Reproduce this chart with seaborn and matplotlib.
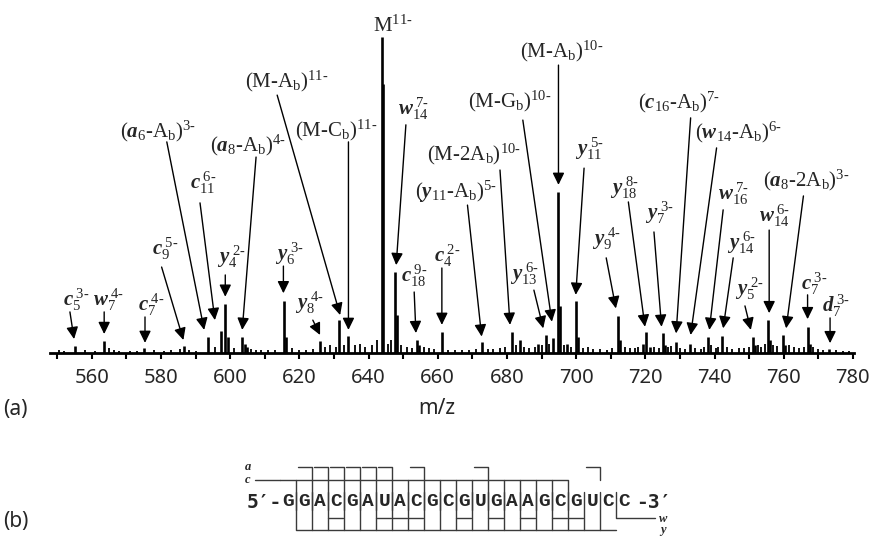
import matplotlib
matplotlib.use("Agg")
import matplotlib.pyplot as plt
import seaborn as sns

# ---------------- data: annotated / main peaks (m/z, relative intensity %) -------------
peak_mz = [555.2, 563.6, 575.1, 586.7, 593.5, 597.3, 598.5, 599.3, 603.5, 604.2, 605.0,
           615.6, 616.2, 626.0, 631.6, 634.0, 643.8, 644.1, 647.7, 648.3, 654.1, 654.6,
           661.2, 672.9, 681.4, 683.8, 689.1, 691.3, 693.2, 694.9, 695.3, 697.3, 700.0,
           700.6, 712.2, 712.8, 719.2, 720.2, 721.4, 725.0, 725.6, 728.9, 732.9, 738.2,
           742.3, 751.0, 751.6, 755.5, 756.1, 759.9, 760.5, 767.1, 767.7, 773.2]
peak_int = [2.3, 3.8, 1.6, 2.2, 5.2, 7.0, 15.5, 5.0, 5.2, 3.0, 2.0,
            16.5, 5.0, 3.9, 10.4, 5.4, 100.0, 85.0, 25.5, 12.0, 4.1, 2.5,
            6.7, 3.6, 6.7, 4.0, 3.0, 5.7, 4.7, 51.0, 15.0, 3.0, 16.3,
            5.0, 11.7, 4.0, 3.0, 6.7, 2.0, 6.2, 2.5, 3.6, 2.8, 5.2,
            5.5, 5.2, 2.5, 10.4, 4.0, 5.7, 2.5, 8.1, 3.0, 1.4]

# small background peaks
noise_mz = [550.5, 552.0, 558.0, 561.0, 565.0, 566.5, 568.0, 571.0, 573.0, 578.0, 581.0,
            583.0, 585.5, 588.0, 590.0, 595.5, 601.0, 606.0, 607.5, 609.0, 611.0, 613.0,
            618.0, 620.0, 622.0, 624.0, 627.5, 629.0, 630.5, 633.0, 636.0, 637.5, 639.0,
            641.0, 642.5, 645.5, 646.5, 649.5, 651.0, 652.5, 656.0, 657.5, 659.0, 663.0,
            665.0, 667.0, 669.0, 671.0, 674.5, 676.0, 678.0, 679.5, 682.5, 685.0, 686.5,
            688.0, 690.0, 692.2, 696.5, 698.5, 702.0, 703.4, 705.0, 707.0, 709.0, 710.5,
            714.0, 715.5, 717.0, 718.0, 722.5, 724.0, 726.5, 727.5, 730.0, 731.5, 734.5,
            736.0, 737.0, 739.0, 740.5, 741.0, 743.5, 745.0, 747.0, 748.5, 750.0, 752.5,
            753.5, 754.5, 757.0, 758.0, 761.5, 763.0, 764.5, 766.0, 768.5, 770.0, 771.5,
            775.0, 777.0, 779.0]
noise_int = [0.8, 0.6, 0.8, 0.7, 1.5, 0.9, 0.6, 0.7, 0.5, 1.0, 0.6,
             0.8, 1.4, 0.9, 0.7, 2.0, 1.5, 1.2, 1.0, 0.8, 0.9, 1.0,
             1.5, 1.0, 0.9, 1.2, 1.8, 2.5, 2.0, 2.5, 2.5, 3.0, 2.0,
             2.5, 4.0, 3.0, 4.0, 2.5, 2.0, 1.6, 2.0, 1.5, 1.2, 1.0,
             0.8, 0.9, 1.0, 1.3, 1.2, 1.3, 1.6, 2.0, 2.5, 2.0, 1.5,
             2.0, 2.5, 3.0, 2.5, 2.0, 1.5, 2.0, 1.2, 1.3, 1.1, 1.6,
             2.0, 1.5, 1.6, 2.0, 1.8, 1.5, 2.0, 2.2, 1.6, 1.2, 1.5,
             1.3, 2.0, 2.5, 1.5, 2.0, 1.8, 1.3, 1.5, 1.5, 2.0, 2.5,
             2.0, 3.0, 2.5, 2.2, 2.5, 1.8, 1.5, 2.0, 2.0, 1.3, 1.0,
             0.8, 0.6, 0.5]

# ion assignments (label text)
ion_labels = [
    r"$\mathbfit{c}_{5}^{\ 3\text{-}}$",
    r"$\mathbfit{w}_{7}^{\ 4\text{-}}$",
    r"$\mathbfit{c}_{7}^{\ 4\text{-}}$",
    r"$\mathbfit{c}_{9}^{\ 5\text{-}}$",
    r"$(\mathbfit{a}_{6}\text{-}\mathrm{A}_{\mathrm{b}})^{3\text{-}}$",
    r"$\mathbfit{c}_{11}^{\ 6\text{-}}$",
    r"$\mathbfit{y}_{4}^{\ 2\text{-}}$",
    r"$(\mathbfit{a}_{8}\text{-}\mathrm{A}_{\mathrm{b}})^{4\text{-}}$",
    r"$\mathbfit{y}_{6}^{\ 3\text{-}}$",
    r"$\mathbfit{y}_{8}^{\ 4\text{-}}$",
    r"$(\mathrm{M}\text{-}\mathrm{A}_{\mathrm{b}})^{11\text{-}}$",
    r"$(\mathrm{M}\text{-}\mathrm{C}_{\mathrm{b}})^{11\text{-}}$",
    r"$\mathrm{M}^{11\text{-}}$",
    r"$\mathbfit{w}_{14}^{\ 7\text{-}}$",
    r"$\mathbfit{c}_{18}^{\ 9\text{-}}$",
    r"$\mathbfit{c}_{4}^{\ 2\text{-}}$",
    r"$(\mathbfit{y}_{11}\text{-}\mathrm{A}_{\mathrm{b}})^{5\text{-}}$",
    r"$(\mathrm{M}\text{-}2\mathrm{A}_{\mathrm{b}})^{10\text{-}}$",
    r"$\mathbfit{y}_{13}^{\ 6\text{-}}$",
    r"$(\mathrm{M}\text{-}\mathrm{G}_{\mathrm{b}})^{10\text{-}}$",
    r"$(\mathrm{M}\text{-}\mathrm{A}_{\mathrm{b}})^{10\text{-}}$",
    r"$\mathbfit{y}_{11}^{\ 5\text{-}}$",
    r"$\mathbfit{y}_{9}^{\ 4\text{-}}$",
    r"$\mathbfit{y}_{18}^{\ 8\text{-}}$",
    r"$\mathbfit{y}_{7}^{\ 3\text{-}}$",
    r"$(\mathbfit{c}_{16}\text{-}\mathrm{A}_{\mathrm{b}})^{7\text{-}}$",
    r"$(\mathbfit{w}_{14}\text{-}\mathrm{A}_{\mathrm{b}})^{6\text{-}}$",
    r"$\mathbfit{w}_{16}^{\ 7\text{-}}$",
    r"$\mathbfit{y}_{14}^{\ 6\text{-}}$",
    r"$(\mathbfit{a}_{8}\text{-}2\mathrm{A}_{\mathrm{b}})^{3\text{-}}$",
    r"$\mathbfit{w}_{14}^{\ 6\text{-}}$",
    r"$\mathbfit{y}_{5}^{\ 2\text{-}}$",
    r"$\mathbfit{c}_{7}^{\ 3\text{-}}$",
    r"$\mathbfit{d}_{7}^{\ 3\text{-}}$",
]

# ---------------- layout (positions in data units: m/z, % intensity) ----------------
label_pos = [(551.8, 14.9), (560.4, 14.9), (573.5, 13.4), (577.3, 31.0), (568.2, 68.2),
             (588.4, 51.8), (596.1, 28.7), (594.2, 63.7), (613.0, 29.4), (618.8, 14.1),
             (604.3, 84.2), (618.8, 68.5), (641.2, 101.7), (648.6, 75.3), (649.3, 22.6),
             (659.0, 28.9), (653.4, 49.0), (656.8, 61.1), (680.9, 23.1), (668.8, 77.9),
             (683.8, 93.6), (699.7, 62.7), (704.5, 34.2), (709.8, 50.5), (719.9, 42.6),
             (718.0, 77.4), (734.4, 67.9), (741.1, 48.4), (743.5, 33.1), (754.1, 52.6),
             (752.9, 41.6), (745.9, 18.4), (764.9, 19.9), (771.0, 13.1)]
arrow_from = [(553.7, 13.0), (563.6, 13.0), (575.4, 11.4), (580.2, 27.2), (581.7, 66.8),
              (591.3, 47.5), (598.6, 24.7), (607.5, 62.0), (615.4, 27.5), (623.9, 10.4),
              (613.6, 81.6), (634.2, 66.8), None, (650.8, 72.2), (653.2, 19.3),
              (661.2, 26.9), (668.6, 46.8), (678.0, 57.9), (687.8, 19.9), (684.6, 73.7),
              (694.9, 91.1), (702.3, 58.5), (708.7, 30.1), (715.1, 47.8), (722.5, 38.3),
              (733.1, 74.4), (740.6, 64.9), (742.5, 45.3), (745.4, 30.1), (765.7, 49.7),
              (755.8, 38.9), (748.8, 14.9), (766.9, 18.4), (773.4, 11.1)]
arrow_to = [(554.9, 4.4), (563.6, 6.0), (575.4, 3.2), (586.5, 4.1), (592.5, 7.3),
            (595.6, 10.4), (598.6, 17.8), (603.5, 7.3), (615.4, 18.9), (626.0, 5.7),
            (631.8, 12.0), (634.2, 7.3), None, (648.0, 27.8), (653.7, 6.3),
            (661.2, 8.9), (672.7, 5.2), (680.9, 8.9), (690.5, 7.8), (693.0, 9.9),
            (694.9, 53.2), (699.9, 18.4), (711.5, 14.1), (719.9, 8.3), (724.7, 8.3),
            (728.9, 6.2), (733.1, 5.7), (738.5, 7.3), (742.5, 7.8), (760.7, 7.8),
            (755.8, 12.6), (750.5, 7.3), (766.9, 10.7), (773.4, 3.1)]

x_ticks = [560, 580, 600, 620, 640, 660, 680, 700, 720, 740, 760, 780]

# ---------------- part (b) data ----------------
sequence = list("GGACGAUACGCGUGAAGCGUCC")
a_cuts = [2, 3, 4, 5, 6, 7, 9, 13, 20]                 # a-ion length
c_cuts = list(range(1, 19))                             # c-ion length
w_cuts = [19, 16, 15, 14, 11, 9, 7, 5, 4]               # w-ion length
y_cuts = list(range(2, 22))                             # y-ion length

# ---------------- styling ----------------
sns.set_style("white")
plt.rcParams["font.family"] = ["Liberation Serif", "DejaVu Serif"]
plt.rcParams["mathtext.fontset"] = "custom"
plt.rcParams["mathtext.rm"] = "Liberation Serif"
plt.rcParams["mathtext.it"] = "Liberation Serif:italic"
plt.rcParams["mathtext.bf"] = "Liberation Serif:bold"
plt.rcParams["mathtext.bfit"] = "Liberation Serif:italic:bold"

W, H = 869, 539
fig = plt.figure(figsize=(W / 100, H / 100), dpi=100)

ax_l, ax_r, ax_b, ax_t = 50.2, 853.6, 353.0, 0.0
ax = fig.add_axes([ax_l / W, 1 - ax_b / H, (ax_r - ax_l) / W, (ax_b - ax_t) / H])
ax.set_xlim(548.0, 780.2)
ax.set_ylim(0, 111.7)

ax.vlines(noise_mz, 0, noise_int, color="black", lw=1.3)
ax.vlines(peak_mz, 0, peak_int, color="black", lw=1.9)

sns.despine(ax=ax, left=True, top=True, right=True)
ax.spines["bottom"].set_linewidth(2.0)
ax.spines["bottom"].set_color("black")
ax.set_yticks([])
ax.set_xticks(x_ticks)
ax.set_xticks(list(range(550, 781, 10)), minor=True)
ax.tick_params(axis="x", which="both", direction="out", length=4.5, width=1.5,
               color="black", bottom=True)
ax.tick_params(axis="x", which="major", pad=6, labelsize=14.5)
sans = ["Noto Sans", "DejaVu Sans"]
for lbl in ax.get_xticklabels():
    lbl.set_family(sans)
    lbl.set_stretch("condensed")

head = dict(arrowstyle="-|>,head_length=0.45,head_width=0.22", color="black", lw=1.0,
            mutation_scale=16, shrinkA=0, shrinkB=0)
for text, pos, a0, a1 in zip(ion_labels, label_pos, arrow_from, arrow_to):
    ax.text(pos[0], pos[1], text, ha="left", va="baseline", fontsize=15, clip_on=False)
    if a0 is not None:
        ax.annotate("", xy=a1, xytext=a0, arrowprops=head, annotation_clip=False)

fig.text(437 / W, 1 - 408 / H, "m/z", ha="center", va="center", fontsize=15,
         family=sans, stretch="condensed")
fig.text(3 / W, 1 - 409 / H, "(a)", ha="left", va="center", fontsize=15,
         family=sans, stretch="condensed")
fig.text(3 / W, 1 - 522 / H, "(b)", ha="left", va="center", fontsize=15,
         family=sans, stretch="condensed")

# ---------------- part (b): fragmentation diagram ----------------
x0_px, step_px = 288.3, 16.0
bx_l, bx_r, by_t, by_b = 200.0, 720.0, 455.0, 539.0
ax2 = fig.add_axes([bx_l / W, 1 - by_b / H, (bx_r - bx_l) / W, (by_b - by_t) / H])
ax2.set_xlim((bx_l - x0_px) / step_px, (bx_r - x0_px) / step_px)
ax2.set_ylim(by_b, by_t)
ax2.axis("off")

mono = ["Liberation Mono", "DejaVu Sans Mono"]
y_seq, y_a, y_c, y_w, y_y = 502.0, 466.7, 480.0, 518.3, 530.0
for i, nt in enumerate(sequence):
    ax2.text(i, y_seq, nt, ha="center", va="center", fontsize=14, weight="bold", family=mono)
ax2.text(-0.42, y_seq, "5\u2032-", ha="right", va="center", fontsize=14, weight="bold",
         family=["DejaVu Sans Mono"])
ax2.text(len(sequence) - 0.25, y_seq, "-3\u2032", ha="left", va="center", fontsize=14,
         weight="bold", family=["DejaVu Sans Mono"])
ax2.text(-2.55, y_a, r"$\mathbfit{a}$", ha="center", va="center", fontsize=9)
ax2.text(-2.55, y_c, r"$\mathbfit{c}$", ha="center", va="center", fontsize=9)
n = len(sequence)
ax2.text(n + 1.45, y_w + 1, r"$\mathbfit{w}$", ha="center", va="center", fontsize=9)
ax2.text(n + 1.45, y_y + 1, r"$\mathbfit{y}$", ha="center", va="center", fontsize=9)

lk = dict(color="#3a3a3a", lw=1.0)
top_letter, bot_letter = 492.0, 510.0
ax2.plot([-2.1, c_cuts[0] - 1.5], [y_c, y_c], **lk)
for k in c_cuts:
    xb = k - 0.5
    ax2.plot([xb - 1.0, xb, xb], [y_c, y_c, bot_letter], **lk)
for k in a_cuts:
    xb = k - 0.5
    ax2.plot([xb - 0.9, xb, xb], [y_a, y_a, y_c], **lk)
for m in y_cuts:
    xb = n - m - 0.5
    ax2.plot([xb, xb, xb + 1.0], [top_letter, y_y, y_y], **lk)
for m in w_cuts:
    xb = n - m - 0.5
    ax2.plot([xb, xb, xb + 0.9], [y_w, y_w, y_w], **lk)
ax2.plot([n - 1.5, n - 1.5, n + 0.9], [top_letter, y_w, y_w], **lk)

fig.savefig("out.png", dpi=100)
